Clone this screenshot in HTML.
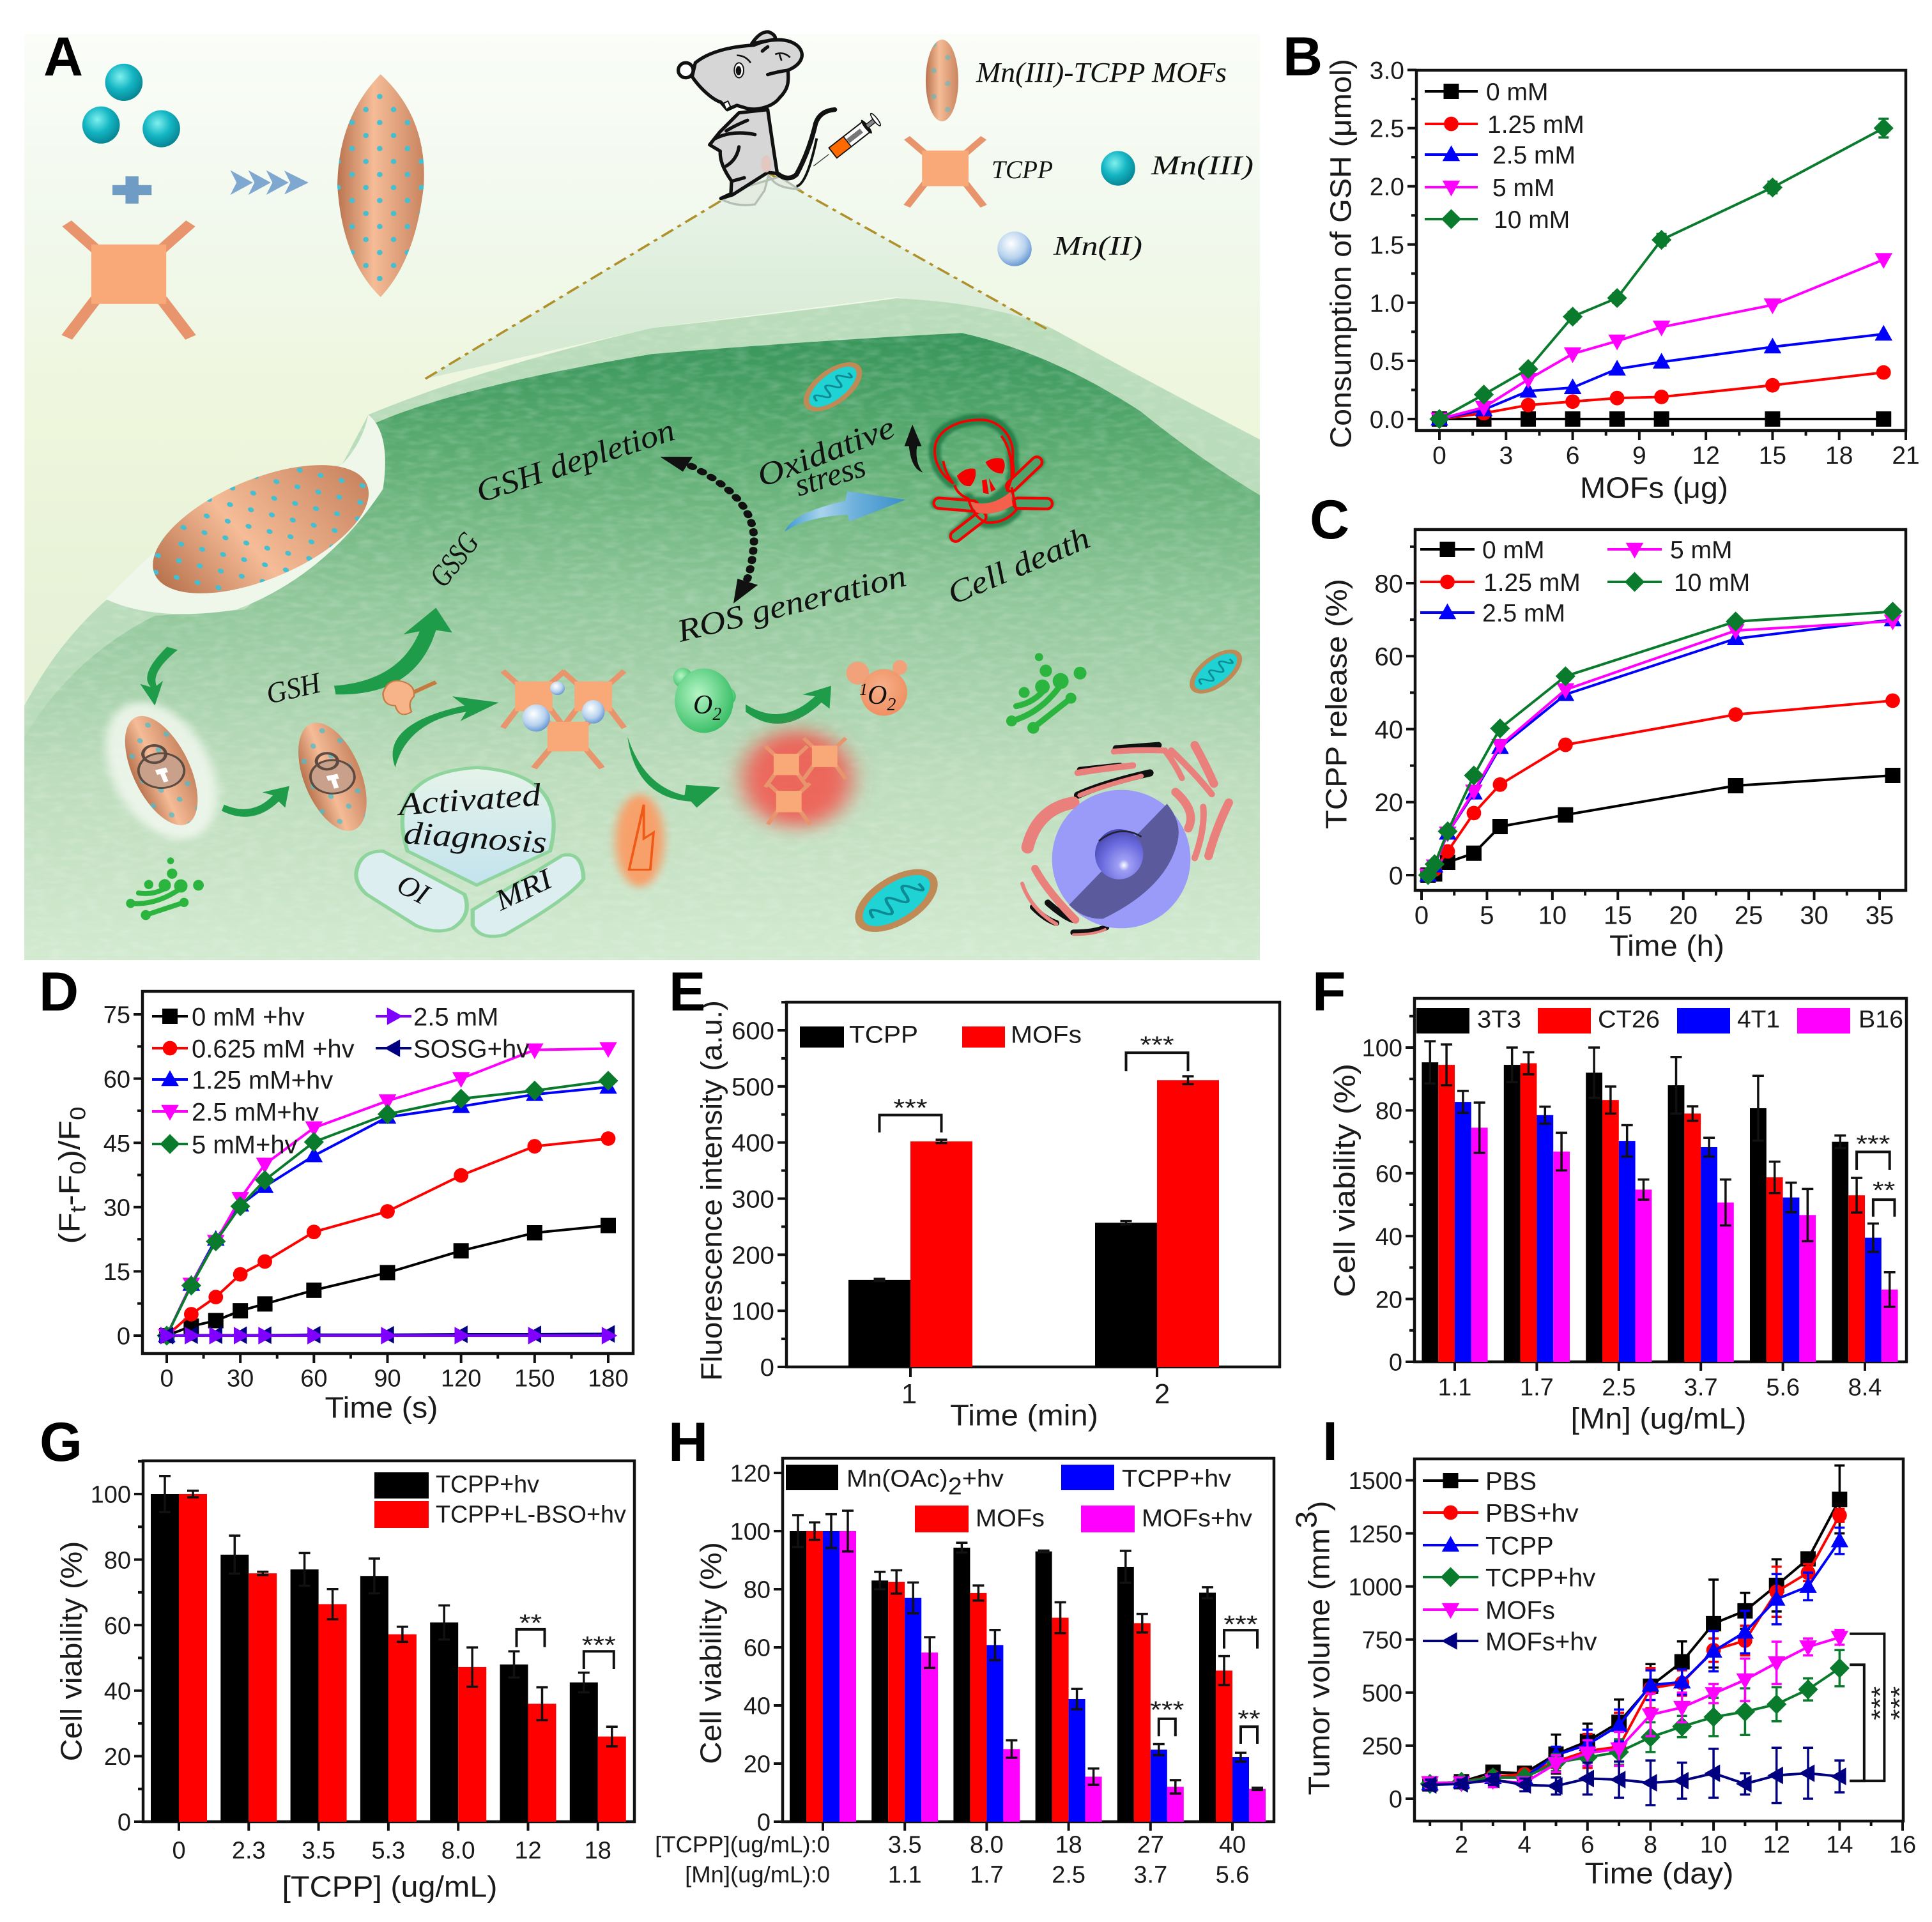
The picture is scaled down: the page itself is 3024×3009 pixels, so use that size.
<!DOCTYPE html>
<html lang="en">
<head>
<meta charset="utf-8">
<title>Mn(III)-TCPP MOFs figure</title>
<style>
html,body{margin:0;padding:0;background:#fff}
svg{display:block}
text{font-family:"Liberation Sans",sans-serif}
.script{font-family:"Liberation Serif",serif;font-style:italic;fill:#111}
</style>
</head>
<body>
<svg id="fig" xmlns="http://www.w3.org/2000/svg" width="3024" height="3009" viewBox="0 0 3024 3009">
<defs>
<linearGradient id="skyG" x1="0" y1="0" x2="0" y2="1"><stop offset="0" stop-color="#fafdf8"/><stop offset=".22" stop-color="#f1f8ec"/><stop offset=".42" stop-color="#eef6dc"/><stop offset="1" stop-color="#dcebd0"/></linearGradient>
<linearGradient id="coneG" x1="0" y1="0" x2="0" y2="1"><stop offset="0" stop-color="#eaf5ea"/><stop offset="1" stop-color="#d3e8d0"/></linearGradient>
<linearGradient id="cellG" x1="0" y1="0" x2="0" y2="1"><stop offset="0" stop-color="#37955a"/><stop offset=".2" stop-color="#5fae74"/><stop offset=".42" stop-color="#90c79a"/><stop offset=".7" stop-color="#bcdcbc"/><stop offset="1" stop-color="#d3ead1"/></linearGradient>
<linearGradient id="mofG" x1="0" y1="0" x2="1" y2="0"><stop offset="0" stop-color="#b9744f"/><stop offset=".42" stop-color="#f5bc97"/><stop offset="1" stop-color="#c98560"/></linearGradient>
<radialGradient id="mn3G" cx=".4" cy=".35" r=".7"><stop offset="0" stop-color="#7ff0ee"/><stop offset=".5" stop-color="#14b6c4"/><stop offset="1" stop-color="#067f8e"/></radialGradient>
<radialGradient id="mn2G" cx=".4" cy=".35" r=".7"><stop offset="0" stop-color="#ffffff"/><stop offset=".6" stop-color="#b7d2ee"/><stop offset="1" stop-color="#5d8fce"/></radialGradient>
<radialGradient id="o2G" cx=".4" cy=".4" r=".7"><stop offset="0" stop-color="#b5f5c5"/><stop offset="1" stop-color="#2bb85c"/></radialGradient>
<radialGradient id="o1G" cx=".45" cy=".4" r=".7"><stop offset="0" stop-color="#f7b08a"/><stop offset="1" stop-color="#ee8a5c"/></radialGradient>
<radialGradient id="holeG" cx=".6" cy=".72" r=".75"><stop offset="0" stop-color="#ffffff"/><stop offset=".15" stop-color="#9f9ff5"/><stop offset=".6" stop-color="#6c6ce0"/><stop offset="1" stop-color="#4545ad"/></radialGradient>
<linearGradient id="domeG" x1="0" y1="0" x2="0" y2="1"><stop offset="0" stop-color="#e6f4ea"/><stop offset="1" stop-color="#c3e3ee"/></linearGradient>
<linearGradient id="blueArrowG" x1="0" y1="0" x2="1" y2="0"><stop offset="0" stop-color="#3b97d0"/><stop offset=".3" stop-color="#a9d3ec"/><stop offset=".6" stop-color="#6aaedb"/><stop offset="1" stop-color="#3a8fc8"/></linearGradient>
<pattern id="dots" width="34" height="42" patternUnits="userSpaceOnUse"><ellipse cx="7" cy="9" rx="3.4" ry="4.2" fill="#43bfd1"/><ellipse cx="24" cy="30" rx="3.4" ry="4.2" fill="#43bfd1"/></pattern>
<filter id="blur20" x="-40%" y="-40%" width="180%" height="180%"><feGaussianBlur stdDeviation="14"/></filter>
<filter id="blur6" x="-30%" y="-30%" width="160%" height="160%"><feGaussianBlur stdDeviation="6"/></filter>
<filter id="texture" x="0" y="0" width="100%" height="100%"><feTurbulence type="fractalNoise" baseFrequency=".05 .11" numOctaves="2" seed="4"/><feColorMatrix type="matrix" values="0 0 0 0 1  0 0 0 0 1  0 0 0 0 1  1.6 0 0 0 -.62"/></filter>
<clipPath id="cellClip"><path d="M30 1140 Q70 1040 130 970 L200 880 L300 790 L420 750 L452 670 Q600 590 800 530 Q1000 500 1100 482 Q1220 490 1290 530 Q1400 610 1546 710 L1546 1551 L30 1551 Z"/></clipPath>
<g id="tcppShape"><g stroke="#e8946c" stroke-width="15" fill="none"><path d="M-40 -40 L-76 -82 M40 -40 L76 -82 M-40 40 L-76 102 M40 40 L76 102"/></g><rect x="-46" y="-48" width="92" height="96" fill="#f9a877"/></g>
<g id="mito"><ellipse rx="50" ry="26" fill="#bf8a56"/><ellipse rx="42" ry="19" fill="#1fd2d4"/><path d="M-32 0 q5 -16 11 0 t11 0 t11 0 t11 0 t11 0 t8 0" fill="none" stroke="#0d8a93" stroke-width="3"/></g>
<g id="golgi" transform="translate(-1285 -1300)" fill="#2bb53f"><g fill="none" stroke="#2bb53f" stroke-width="26" stroke-linecap="round"><path d="M1130 1425 Q1260 1390 1350 1260"/><path d="M1225 1455 L1390 1325"/><path d="M1150 1360 Q1230 1345 1280 1280"/></g><circle cx="1130" cy="1425" r="24"/><circle cx="1225" cy="1455" r="26"/><circle cx="1390" cy="1325" r="24"/><circle cx="1185" cy="1300" r="24"/><circle cx="1250" cy="1145" r="18"/><circle cx="1280" cy="1205" r="27"/><circle cx="1430" cy="1215" r="28"/><circle cx="1345" cy="1250" r="35"/><circle cx="1265" cy="1275" r="32"/></g>
</defs>

<g id="panel-a">
<g transform="scale(1.2755 0.969)">
<rect x="30" y="55" width="1516" height="1496" fill="url(#skyG)"/>
<path d="M942 279 L1285 532 L1100 480 L800 530 L522 612 Z" fill="url(#coneG)"/>
<path d="M30 1140 Q70 1040 130 970 L200 880 L300 790 L420 750 L452 670 Q600 590 800 530 Q1000 500 1100 482 Q1220 490 1290 530 Q1400 610 1546 710 L1546 1551 L30 1551 Z" fill="#b9dcba"/>
<path d="M30 1190 Q90 1060 190 995 L300 985 L440 820 L458 685 Q560 625 800 572 Q1000 550 1180 538 Q1290 570 1400 665 Q1470 740 1546 800 L1546 1551 L30 1551 Z" fill="url(#cellG)"/>
<g clip-path="url(#cellClip)"><rect x="30" y="480" width="1516" height="1071" filter="url(#texture)" opacity=".22"/></g>
<path d="M130 968 Q190 1005 290 985 Q400 930 470 790 Q480 700 452 670 Q445 715 420 750 Q300 800 200 880 Q165 920 130 968 Z" fill="#eff7eb"/>
<path d="M522 612 L942 279" stroke="#b0902a" stroke-width="3.4" stroke-dasharray="18 7 5 7" fill="none"/>
<path d="M942 279 L1285 532" stroke="#b0902a" stroke-width="3.4" stroke-dasharray="18 7 5 7" fill="none"/>

<g><ellipse cx="152" cy="133" rx="23" ry="30" fill="url(#mn3G)"/><ellipse cx="124" cy="202" rx="23" ry="30" fill="url(#mn3G)"/><ellipse cx="198" cy="208" rx="23" ry="30" fill="url(#mn3G)"/></g>
<path d="M154 285h16v14h16v16h-16v14h-16v-14h-16v-16h16z" fill="#6f9cc4"/>
<use href="#tcppShape" transform="translate(158 443)"/>
<path d="M288 282l18 13-18 13 5-13zM310 282l18 13-18 13 5-13zM332 282l18 13-18 13 5-13zM354 282l20 13-20 13 5-13z" fill="#7ea8d0" stroke="#7ea8d0" stroke-width="5"/>
<g><path d="M467 120 Q525 190 520 300 Q510 420 467 480 Q420 420 414 300 Q415 190 467 120 Z" fill="url(#mofG)"/><path d="M467 120 Q525 190 520 300 Q510 420 467 480 Q420 420 414 300 Q415 190 467 120 Z" fill="url(#dots)"/></g>

<g><ellipse cx="1156" cy="130" rx="20" ry="66" fill="url(#mofG)"/><ellipse cx="1156" cy="130" rx="20" ry="66" fill="url(#dots)" opacity=".5"/></g>
<use href="#tcppShape" transform="translate(1160 272) scale(.62 .6)"/>
<ellipse cx="1372" cy="272" rx="21" ry="28" fill="url(#mn3G)"/>
<ellipse cx="1245" cy="402" rx="21" ry="28" fill="url(#mn2G)"/>

<g transform="translate(320 855) rotate(-33)"><ellipse rx="150" ry="76" fill="url(#mofG)"/><ellipse rx="150" ry="76" fill="url(#dots)"/></g>
<ellipse cx="198" cy="1245" rx="62" ry="115" transform="rotate(-18 198 1245)" fill="#f2f8ef" opacity=".85" filter="url(#blur6)"/>
<g transform="translate(198 1245) rotate(-18)"><ellipse rx="36" ry="92" fill="url(#mofG)"/><ellipse rx="36" ry="92" fill="url(#dots)" opacity=".7"/><circle r="28" fill="#c9a18b" stroke="#5d4a40" stroke-width="3"/><circle cy="-28" r="14" fill="none" stroke="#5d4a40" stroke-width="4"/><path d="M-7 -3h14v8h-4v14h-6v-14h-4z" fill="#fff"/></g>
<g transform="translate(408 1255) rotate(-15)"><ellipse rx="36" ry="90" fill="url(#mofG)"/><ellipse rx="36" ry="90" fill="url(#dots)" opacity=".7"/><circle r="27" fill="#c9a18b" stroke="#5d4a40" stroke-width="3"/><circle cy="-26" r="13" fill="none" stroke="#5d4a40" stroke-width="4"/><path d="M-7 -3h14v8h-4v14h-6v-14h-4z" fill="#fff"/></g>

<g fill="#1f9c4a">
<path d="M205 1045 Q170 1090 185 1110 L172 1105 L190 1140 L200 1100 L192 1108 Q185 1085 218 1050 Z"/>
<path d="M275 1300 Q310 1320 335 1285 L322 1280 L355 1270 L350 1305 L342 1295 Q310 1335 272 1310 Z"/>
<path d="M410 1108 Q490 1100 515 1020 L495 1025 L535 982 L555 1022 L535 1018 Q510 1125 412 1122 Z"/>
<path d="M485 1240 Q465 1170 570 1140 L555 1125 L612 1135 L565 1165 L572 1150 Q500 1165 485 1240 Z"/>
<path d="M770 1190 Q790 1270 840 1285 L842 1268 L884 1272 L855 1305 L848 1295 Q780 1290 770 1190 Z"/>
<path d="M915 1138 Q960 1175 1000 1125 L985 1122 L1020 1108 L1018 1145 L1008 1135 Q960 1195 915 1150 Z"/>
</g>
<g><path d="M505 1120 L535 1102" stroke="#c47a3d" stroke-width="6"/><path d="M470 1120 Q475 1098 490 1100 Q510 1105 508 1125 Q500 1135 505 1150 Q490 1162 485 1140 Q470 1140 470 1120 Z" fill="#f7b488" stroke="#c77b45" stroke-width="2"/></g>
<g><use href="#tcppShape" transform="translate(655 1125) scale(.5 .5)"/><use href="#tcppShape" transform="translate(728 1125) scale(.5 .5)"/><use href="#tcppShape" transform="translate(697 1190) scale(.55 .5)"/><ellipse cx="658" cy="1160" rx="17" ry="22" fill="url(#mn2G)"/><ellipse cx="728" cy="1150" rx="14" ry="19" fill="url(#mn2G)"/><ellipse cx="684" cy="1112" rx="9" ry="11" fill="url(#mn2G)"/></g>
<g><ellipse cx="838" cy="1095" rx="12" ry="16" fill="url(#o2G)"/><ellipse cx="893" cy="1125" rx="10" ry="14" fill="url(#o2G)"/><ellipse cx="864" cy="1132" rx="36" ry="52" fill="url(#o2G)"/></g>
<g><ellipse cx="978" cy="1258" rx="68" ry="78" fill="#f4524c" opacity=".85" filter="url(#blur20)"/><use href="#tcppShape" transform="translate(965 1235) scale(.34 .36)"/><use href="#tcppShape" transform="translate(1012 1222) scale(.34 .36)"/><use href="#tcppShape" transform="translate(968 1295) scale(.34 .36)"/></g>
<g><ellipse cx="785" cy="1358" rx="30" ry="75" fill="#f8a06a" filter="url(#blur6)"/><path d="M790 1300 L772 1405 L798 1405 L802 1345 L790 1355 Z" fill="none" stroke="#ef5a17" stroke-width="3"/></g>
<g stroke="#8fd49c" stroke-width="5">
<path d="M585 1430 L500 1375 Q470 1250 585 1240 Q700 1250 675 1375 Z" fill="url(#domeG)"/>
<path d="M437 1412 Q440 1375 470 1375 L570 1445 Q580 1480 555 1500 Q535 1510 510 1495 L450 1445 Q437 1430 437 1412 Z" fill="#dceef0"/>
<path d="M580 1470 L690 1382 Q715 1375 716 1420 Q700 1450 620 1510 Q590 1520 580 1495 Z" fill="#dceef0"/>
</g>
<path d="M835 745 Q930 800 925 880 Q922 930 910 955" fill="none" stroke="#111" stroke-width="10" stroke-dasharray="3 12" stroke-linecap="round"/>
<path d="M810 738 L850 738 L838 762 Z M900 975 L930 945 L905 935 Z" fill="#111"/>
<use href="#mito" transform="translate(1022 625) rotate(-50) scale(.95 .95)"/>
<use href="#mito" transform="translate(1492 1085) rotate(-50) scale(.85 .85)"/>
<use href="#mito" transform="translate(1100 1455) rotate(-45) scale(1.25 1.35)"/>
</g>

<!-- mouse, drawn in 3x crop space anchored at (1020,30) -->
<g transform="translate(1020 30) scale(.3333)">
<path d="M335 850 Q400 882 485 870 L530 805 L548 735 L575 765 Q610 795 690 798 L600 740 L400 800 Z" fill="#e4ece2" stroke="#b5beb2" stroke-width="10"/>
<path d="M590 725 Q640 765 680 730 Q740 620 770 490 Q790 430 860 425" fill="none" stroke="#111" stroke-width="22" stroke-linecap="round"/>
<path d="M680 785 Q730 775 775 560" fill="none" stroke="#111" stroke-width="12"/>
<g stroke="#111" stroke-width="16" stroke-linejoin="round" stroke-linecap="round" fill="#d6d6d6">
<path d="M470 115 Q510 55 550 60 Q585 75 580 95 Z"/>
<path d="M410 440 Q360 490 320 530 L272 590 L322 620 Q318 680 375 760 L372 820 L325 842 L380 825 L545 720 L590 725 Q570 600 545 425 Z"/>
<path d="M205 205 C260 160 350 130 480 122 C540 95 640 80 690 130 C725 170 700 215 640 240 C645 300 640 330 600 370 C570 410 500 430 450 420 L400 405 L355 425 L325 390 C290 380 230 330 190 270 Z"/>
<circle cx="160" cy="240" r="35" fill="#fff"/>
<path d="M520 150 Q530 140 545 130 M545 260 Q600 245 640 240" fill="none"/>
<path d="M300 560 Q380 520 485 542 M450 475 Q380 505 350 525 M410 600 Q400 660 350 690 M380 760 L435 745" fill="none"/>
</g>
<ellipse cx="410" cy="240" rx="22" ry="35" fill="#fff" stroke="#111" stroke-width="6"/>
<ellipse cx="408" cy="242" rx="13" ry="22" fill="#111"/>
<path d="M400 170 Q440 170 465 205 M580 165 Q620 150 650 180 M600 165 L610 195" fill="none" stroke="#111" stroke-width="8"/>
<path d="M338 395 L350 425 L370 410 L358 385 Z" fill="#fff" stroke="#111" stroke-width="6"/>
<ellipse cx="538" cy="680" rx="24" ry="40" fill="#e4c6bc" opacity=".85"/>
<g><path d="M760 690 L832 635" stroke="#333" stroke-width="4"/><g transform="translate(900 590) rotate(-38)"><rect x="-62" y="-30" width="200" height="60" fill="#fff" stroke="#111" stroke-width="6"/><rect x="-62" y="-30" width="86" height="60" fill="#ff6a00" stroke="#111" stroke-width="5"/><rect x="28" y="-12" width="80" height="24" fill="#777"/><ellipse cx="138" cy="0" rx="10" ry="40" fill="#111"/><rect x="140" y="-10" width="50" height="20" fill="#888" stroke="#111" stroke-width="4"/><ellipse cx="192" cy="0" rx="9" ry="36" fill="#fff" stroke="#111" stroke-width="5"/></g></g>
</g>

<!-- skull, arrows, golgi, singlet oxygen drawn in crop space anchored at (1180,620), 2.8x -->
<g transform="translate(1180 620) scale(.357)">
<path d="M740 335 Q690 320 680 220 L660 220 L695 125 L735 220 L715 220 Q705 290 740 335 Z" fill="#111"/>
<path d="M135 595 Q170 510 400 460 L410 418 L665 455 L420 550 L410 520 Q230 530 135 595 Z" fill="url(#blueArrowG)"/>
<g>
<g fill="none" stroke="#14733c" stroke-width="52" opacity=".75" filter="url(#blur6)" stroke-linecap="round"><path d="M870 380 C800 330 780 250 800 200 C830 130 920 100 1010 105 C1090 115 1140 190 1135 260 C1130 300 1150 330 1130 360"/><path d="M800 470 L1290 470 M880 610 L1250 290"/><path d="M940 450 Q960 530 1020 555 Q1100 560 1150 500"/></g>
<g fill="none" stroke-linecap="round"><path d="M812 470 L960 482 M1160 470 L1285 472 M885 615 L995 530 M1130 395 L1240 290" stroke="#f50000" stroke-width="58"/><path d="M812 470 L960 482 M1160 470 L1285 472 M885 615 L995 530 M1130 395 L1240 290" stroke="#4fa36a" stroke-width="34"/></g>
<path d="M870 380 C800 330 780 250 800 200 C830 130 920 100 1010 105 C1090 115 1140 190 1135 260 C1130 300 1150 330 1130 360 L1110 420 M880 390 Q890 430 940 450 Q960 530 1020 555 Q1100 560 1150 500 L1130 400 M830 285 Q840 340 875 385 M1085 175 Q1135 240 1130 360" fill="none" stroke="#f50000" stroke-width="11"/>
<path d="M890 350 Q930 310 970 320 Q980 360 950 395 Q910 400 890 350 Z M1015 290 Q1050 265 1090 275 Q1110 300 1090 340 Q1040 340 1015 290 Z M1000 370 L1020 365 L1030 430 L1005 425 Z M1030 360 L1060 410 L1040 420 Z" fill="#f50000"/>
<path d="M950 465 Q1040 490 1125 420 L1135 480 Q1050 530 975 510 Z" fill="#f5604c"/>
</g>
<g><circle cx="455" cy="1215" r="50" fill="#f2a27a"/><circle cx="640" cy="1190" r="32" fill="#f2a27a"/><circle cx="570" cy="1300" r="102" fill="url(#o1G)"/></g>
<use href="#golgi" transform="translate(1285 1300)"/>
</g>
<use href="#golgi" transform="translate(261 1395) rotate(20) scale(.3)"/>

<!-- nucleus and ER, crop space anchored at (1540,1130), 3x -->
<g transform="translate(1540 1130) scale(.3333)">
<g fill="none" stroke="#111" stroke-linecap="round"><path d="M440 345 Q560 290 780 240" stroke-width="34"/><path d="M620 125 L820 110" stroke-width="30"/><path d="M450 225 L640 205" stroke-width="26"/><path d="M230 870 Q290 930 340 945" stroke-width="28"/><path d="M300 850 Q380 920 420 930" stroke-width="30"/><path d="M420 990 Q520 990 575 965" stroke-width="28"/></g>
<g fill="none" stroke="#e9807c" stroke-linecap="round"><path d="M205 590 Q250 410 420 380" stroke-width="58"/><path d="M440 240 Q560 220 700 205" stroke-width="30"/><path d="M450 345 Q560 300 740 255" stroke-width="22"/><path d="M610 140 Q720 130 850 135 Q900 200 930 265" stroke-width="28"/><path d="M880 135 Q1000 250 1070 340" stroke-width="30"/><path d="M990 110 Q1040 200 1080 290" stroke-width="40"/><path d="M900 330 Q1000 420 960 500" stroke-width="40"/><path d="M1150 380 Q1090 500 1055 630" stroke-width="40"/><path d="M1030 400 Q1040 500 990 640" stroke-width="30"/><path d="M180 760 Q220 880 340 950" stroke-width="18"/><path d="M240 690 Q300 800 430 930" stroke-width="36"/><path d="M420 1000 Q520 1000 570 975" stroke-width="12"/></g>
<circle cx="645" cy="645" r="325" fill="#9a9af8"/>
<path d="M400 860 L860 385 Q930 470 910 560 Q860 780 560 925 Q470 930 400 860 Z" fill="#5a5a9c"/>
<ellipse cx="635" cy="622" rx="113" ry="118" fill="url(#holeG)"/>
<path d="M540 560 Q640 480 740 540" fill="none" stroke="#223" stroke-width="8"/>
</g>

<text class="script" x="1528" y="128" font-size="44" textLength="392" lengthAdjust="spacingAndGlyphs">Mn(III)-TCPP MOFs</text>
<text class="script" x="1552" y="279" font-size="40" textLength="96" lengthAdjust="spacingAndGlyphs">TCPP</text>
<text class="script" x="1802" y="273" font-size="42" textLength="160" lengthAdjust="spacingAndGlyphs">Mn(III)</text>
<text class="script" x="1649" y="399" font-size="42" textLength="139" lengthAdjust="spacingAndGlyphs">Mn(II)</text>
<text class="script" transform="translate(752 787) rotate(-18)" font-size="50" textLength="323" lengthAdjust="spacingAndGlyphs">GSH depletion</text>
<text class="script" transform="translate(695 922) rotate(-52)" font-size="48" textLength="92" lengthAdjust="spacingAndGlyphs">GSSG</text>
<text class="script" transform="translate(1193 763) rotate(-21)" font-size="50" textLength="226" lengthAdjust="spacingAndGlyphs">Oxidative</text>
<text class="script" transform="translate(1250 777) rotate(-17)" font-size="50" textLength="113" lengthAdjust="spacingAndGlyphs">stress</text>
<text class="script" transform="translate(1065 1005) rotate(-14)" font-size="50" textLength="367" lengthAdjust="spacingAndGlyphs">ROS generation</text>
<text class="script" transform="translate(1492 947) rotate(-23)" font-size="50" textLength="236" lengthAdjust="spacingAndGlyphs">Cell death</text>
<text class="script" transform="translate(421 1102) rotate(-13)" font-size="46" textLength="85" lengthAdjust="spacingAndGlyphs">GSH</text>
<text class="script" transform="translate(625 1276) rotate(-4)" font-size="50" textLength="223" lengthAdjust="spacingAndGlyphs">Activated</text>
<text class="script" transform="translate(631 1320) rotate(4)" font-size="50" textLength="224" lengthAdjust="spacingAndGlyphs">diagnosis</text>
<text class="script" transform="translate(618 1394) rotate(28)" font-size="46">OI</text>
<text class="script" transform="translate(784 1426) rotate(-25)" font-size="46" textLength="92" lengthAdjust="spacingAndGlyphs">MRI</text>
<text class="script" x="1085" y="1117" font-size="42">O<tspan font-size="28" dy="10">2</tspan></text>
<text class="script" x="1345" y="1102" font-size="42"><tspan font-size="26" dy="-14">1</tspan><tspan dy="14">O</tspan><tspan font-size="28" dy="10">2</tspan></text>
</g>
<g id="charts"></g>
</svg>
<script>
/* ---------- Panel B data ---------- */
const bDoses = [0, 2, 4, 6, 8, 10, 15, 20];
const b0mM = [0, 0, 0, 0, 0, 0, 0, 0];
const b125mM = [0, 0.05, 0.12, 0.15, 0.18, 0.19, 0.29, 0.40];
const b25mM = [0, 0.08, 0.24, 0.27, 0.43, 0.49, 0.62, 0.73];
const b5mM = [0, 0.10, 0.34, 0.56, 0.67, 0.79, 0.98, 1.37];
const b10mM = [0, 0.21, 0.43, 0.88, 1.04, 1.54, 1.99, 2.50];
const b10mMErr = [0.03, 0.02, 0.03, 0.04, 0.04, 0.05, 0.05, 0.08];
const bXTicks = [0, 3, 6, 9, 12, 15, 18, 21];
const bYTicks = [0, 0.5, 1, 1.5, 2, 2.5, 3];
const bYLabels = ['0.0', '0.5', '1.0', '1.5', '2.0', '2.5', '3.0'];
const bLegend = ['0 mM', '1.25 mM', '2.5 mM', '5 mM', '10 mM'];
/* ---------- Panel C data ---------- */
const cTimes = [0.5, 1, 2, 4, 6, 11, 24, 36];
const c0mM = [0, 0.3, 3.5, 6, 13.3, 16.5, 24.5, 27.3];
const c125mM = [0, 1.5, 6.5, 17, 24.8, 35.7, 44, 47.8];
const c25mM = [0, 2.5, 11.5, 22.5, 35, 49.5, 64.8, 70];
const c5mM = [0, 2.5, 11.5, 23, 35.5, 50.8, 67, 69.6];
const c10mM = [0, 3, 12, 27.3, 40.2, 54.5, 69.5, 72.2];
const cXTicks = [0, 5, 10, 15, 20, 25, 30, 35];
const cYTicks = [0, 20, 40, 60, 80];
const cLegend = ['0 mM', '1.25 mM', '2.5 mM', '5 mM', '10 mM'];
/* ---------- Panel D data ---------- */
const dTimes = [0, 10, 20, 30, 40, 60, 90, 120, 150, 180];
const d0mM = [0, 2.2, 3.5, 5.8, 7.4, 10.6, 14.7, 19.8, 24, 25.7];
const d0625mM = [0, 5, 9, 14.3, 17.3, 24.2, 29, 37.4, 44.2, 46];
const d125mM = [0, 12, 22.5, 30.5, 34.8, 42, 51, 53.5, 56.3, 58];
const d25mM = [0, 12, 22, 32, 40, 48.5, 54.8, 60, 66.7, 67];
const d5mM = [0, 11.7, 22, 30.2, 36.3, 45.2, 51.7, 55.3, 57.2, 59.5];
const d25Dark = [0, 0, 0, 0, 0, 0, 0, 0, 0, 0];
const dSosg = [0, 0.1, 0.1, 0.1, 0.1, 0.2, 0.2, 0.3, 0.3, 0.4];
const dXTicks = [0, 30, 60, 90, 120, 150, 180];
const dYTicks = [0, 15, 30, 45, 60, 75];
const dLegend = ['0 mM +hv', '0.625 mM +hv', '1.25 mM+hv', '2.5 mM+hv', '5 mM+hv', '2.5 mM', 'SOSG+hv'];
/* ---------- Panel E data ---------- */
const eCategories = ['1', '2'];
const eTcpp = [155, 257];
const eTcppErr = [2, 3];
const eMofs = [402, 511];
const eMofsErr = [3, 7];
const eYTicks = [0, 100, 200, 300, 400, 500, 600];
/* ---------- Panel F data ---------- */
const fCategories = ['1.1', '1.7', '2.5', '3.7', '5.6', '8.4'];
const f3T3 = [95.3, 94.5, 92, 88, 80.7, 70];
const f3T3Err = [6.7, 5.5, 8, 9, 10.3, 2];
const fCT26 = [94.5, 95, 83.3, 79, 58.7, 53];
const fCT26Err = [6.5, 3.5, 4.3, 2.3, 5, 5.5];
const f4T1 = [82.7, 78.5, 70.3, 68.3, 52.3, 39.5];
const f4T1Err = [3.5, 2.7, 5, 3, 4.7, 4.5];
const fB16 = [74.5, 66.9, 54.8, 50.7, 46.7, 23];
const fB16Err = [8, 6, 3.2, 7.3, 8.3, 5.5];
const fYTicks = [0, 20, 40, 60, 80, 100];
/* ---------- Panel G data ---------- */
const gCategories = ['0', '2.3', '3.5', '5.3', '8.0', '12', '18'];
const gTcpp = [100, 81.5, 77, 75, 60.8, 48, 42.5];
const gTcppErr = [5.5, 5.8, 5, 5.3, 5.2, 4, 3];
const gBso = [100, 75.8, 66.4, 57.2, 47.2, 36, 26];
const gBsoErr = [1, 0.5, 4.6, 2.3, 6, 5, 3];
const gYTicks = [0, 20, 40, 60, 80, 100];
/* ---------- Panel H data ---------- */
const hTcppDose = ['3.5', '8.0', '18', '27', '40'];
const hMnDose = ['1.1', '1.7', '2.5', '3.7', '5.6'];
const hMnOAc = [100, 83, 94.3, 93, 87.7, 78.8];
const hMnOAcErr = [5.5, 3, 1.7, 0.3, 5.5, 1.9];
const hMofs = [100, 82.5, 78.7, 70.2, 68.3, 52];
const hMofsErr = [3, 4, 2.6, 5.3, 3.2, 5];
const hTcpp = [100, 77, 60.8, 42.2, 24.8, 22.2];
const hTcppErr = [5.8, 5.3, 5.2, 3.5, 1.9, 1.5];
const hMofsHv = [100, 58.2, 25, 15.5, 12, 11.3];
const hMofsHvErr = [7, 5.3, 3, 2.8, 2.3, 0.4];
const hYTicks = [0, 20, 40, 60, 80, 100, 120];
/* ---------- Panel I data ---------- */
const iDays = [1, 2, 3, 4, 5, 6, 7, 8, 9, 10, 11, 12, 13, 14];
const iPbs = [70, 80, 125, 120, 210, 270, 360, 530, 645, 825, 885, 1005, 1130, 1410];
const iPbsErr = [20, 20, 25, 25, 92, 84, 107, 104, 96, 207, 85, 123, 20, 160];
const iPbsHv = [70, 80, 105, 115, 175, 225, 245, 520, 545, 700, 745, 975, 1065, 1335];
const iPbsHvErr = [20, 20, 20, 20, 30, 80, 160, 95, 60, 55, 70, 118, 40, 30];
const iTcpp = [70, 80, 100, 100, 205, 255, 345, 535, 550, 695, 785, 940, 1000, 1215];
const iTcppErr = [20, 20, 20, 20, 40, 70, 75, 70, 60, 95, 100, 118, 65, 62];
const iTcppHv = [70, 80, 100, 100, 170, 195, 220, 290, 340, 385, 410, 445, 515, 615];
const iTcppHvErr = [20, 20, 20, 20, 40, 40, 60, 70, 50, 90, 110, 80, 52, 85];
const iMofs = [75, 75, 85, 75, 165, 215, 235, 395, 430, 495, 560, 640, 715, 760];
const iMofsErr = [25, 20, 30, 20, 40, 60, 80, 100, 70, 45, 100, 100, 40, 35];
const iMofsHv = [65, 70, 90, 65, 60, 95, 90, 75, 85, 120, 70, 110, 120, 105];
const iMofsHvErr = [25, 20, 25, 30, 40, 75, 85, 105, 85, 115, 50, 130, 120, 75];
const iXTicks = [2, 4, 6, 8, 10, 12, 14, 16];
const iYTicks = [0, 250, 500, 750, 1000, 1250, 1500];
const iLegend = ['PBS', 'PBS+hv', 'TCPP', 'TCPP+hv', 'MOFs', 'MOFs+hv'];

/* ---------- Axis functions ---------- */
function linear(d0, d1, r0, r1) { return v => r0 + (v - d0) * (r1 - r0) / (d1 - d0); }
const bX = linear(0, 21, 2253, 2983), bY = linear(0, 3, 656, 109.5);
const cX = linear(0, 35, 2225, 2942), cY = linear(0, 80, 1370, 913);
const dX = linear(0, 180, 261, 952), dY = linear(0, 75, 2091, 1588);
const eY = linear(0, 600, 2140, 1613);
const fY = linear(0, 100, 2132, 1640);
const gY = linear(0, 100, 2852, 2339);
const hY = linear(0, 100, 2852, 2397);
const iX = linear(2, 16, 2287.5, 2978), iY = linear(0, 1500, 2816, 2317.5);

const BLACK = '#000', RED = '#ff0000', BLUE = '#0000ff', MAGENTA = '#ff00ff', GREEN = '#0a7a2c', NAVY = '#000080', PURPLE = '#8000ff';
const NS = 'http://www.w3.org/2000/svg';
const root = document.getElementById('charts');
const TICK_SIZE = 38, TITLE_SIZE = 46;

function mk(tag, attrs, parent) {
  const e = document.createElementNS(NS, tag);
  for (const k in attrs) e.setAttribute(k, attrs[k]);
  parent.appendChild(e);
  return e;
}
function group(name, parent) {
  const g = mk('g', {}, parent || root);
  
  
  return g;
}
function T(parent, x, y, str, name, o) {
  o = o || {};
  const size = o.size || TICK_SIZE;
  const t = mk('text', { 'font-size': size, 'text-anchor': o.anchor || 'middle', fill: o.fill || '#1a1a1a', 'font-weight': o.weight || 'normal' }, parent);
  
  
  if (Array.isArray(str)) {
    str.forEach(run => {
      const s = mk('tspan', {}, t);
      s.textContent = run.t;
      if (run.size) s.setAttribute('font-size', run.size);
      if (run.dy) s.setAttribute('dy', run.dy);
    });
  } else {
    t.textContent = str;
  }
  let sx = o.sx || 1;
  if (o.len) sx = o.len / t.getComputedTextLength();
  const by = o.rot ? 0 : size * 0.36;
  const bx = o.rot ? size * 0.36 : 0;
  t.setAttribute('transform', 'translate(' + (x + bx) + ' ' + (y + by) + ') rotate(' + (o.rot || 0) + ') scale(' + sx + ' 1)');
  return t;
}
function marker(parent, type, cx, cy, s, color, name) {
  let m;
  if (type === 'circle') {
    m = mk('circle', { cx: cx, cy: cy, r: s * 0.95, fill: color }, parent);
  } else {
    const shapes = {
      square: [[-1, -1], [1, -1], [1, 1], [-1, 1]],
      up: [[0, -1.2], [1.15, 0.85], [-1.15, 0.85]],
      down: [[0, 1.2], [1.15, -0.85], [-1.15, -0.85]],
      diamond: [[0, -1.3], [1.3, 0], [0, 1.3], [-1.3, 0]],
      left: [[-1.2, 0], [0.85, -1.15], [0.85, 1.15]],
      right: [[1.2, 0], [-0.85, -1.15], [-0.85, 1.15]]
    };
    const pts = shapes[type].map(p => (cx + p[0] * s) + ',' + (cy + p[1] * s)).join(' ');
    m = mk('polygon', { points: pts, fill: color }, parent);
  }
  
  
  return m;
}
function frame(g, f, lw) {
  const r = mk('rect', { x: f.l, y: f.t, width: f.r - f.l, height: f.b - f.t, fill: 'none', stroke: '#111', 'stroke-width': lw || 4.5 }, g);
  
  
}
function tick(g, x1, y1, x2, y2, name) {
  const l = mk('line', { x1: x1, y1: y1, x2: x2, y2: y2, stroke: '#111', 'stroke-width': 4 }, g);
  
  
}
function yAxis(g, f, yFn, ticks, labels, o) {
  const ax = group('y-axis', g);
  ticks.forEach((v, i) => {
    tick(ax, f.l - 14, yFn(v), f.l, yFn(v), 'y-tick');
    if (o.minor && i < ticks.length) {
      const mv = v + (ticks[1] - ticks[0]) / 2;
      if (yFn(mv) > f.t) tick(ax, f.l - 8, yFn(mv), f.l, yFn(mv), 'y-minor-tick');
    }
    T(ax, f.l - 19, yFn(v), labels ? labels[i] : String(v), 'y-tick-label', { anchor: 'end', size: o.size, sx: o.sx });
  });
}
function xAxis(g, f, xFn, ticks, labels, o) {
  const ax = group('x-axis', g);
  ticks.forEach((v, i) => {
    tick(ax, xFn(v), f.b, xFn(v), f.b + 15, 'x-tick');
    if (o.minor) {
      const mv = v + (ticks[1] - ticks[0]) / 2;
      if (xFn(mv) < f.r) tick(ax, xFn(mv), f.b, xFn(mv), f.b + 8, 'x-minor-tick');
    }
    T(ax, xFn(v), o.y, labels ? labels[i] : String(v), 'x-tick-label', { size: o.size, sx: o.sx });
  });
}
function drawSeries(g, s, xs, xFn, yFn, ms) {
  const sg = group('series-' + s.name, g);
  if (s.err) {
    s.vals.forEach((v, i) => {
      const x = xFn(xs[i]), hi = yFn(v + s.err[i]), lo = yFn(v - s.err[i]);
      const eb = mk('path', { d: 'M' + x + ' ' + lo + 'V' + hi + 'M' + (x - 8) + ' ' + hi + 'H' + (x + 8) + 'M' + (x - 8) + ' ' + lo + 'H' + (x + 8), stroke: s.color, 'stroke-width': 3.5, fill: 'none' }, sg);
      
      
    });
  }
  const pts = s.vals.map((v, i) => xFn(xs[i]) + ',' + yFn(v)).join(' ');
  const pl = mk('polyline', { points: pts, fill: 'none', stroke: s.color, 'stroke-width': 4 }, sg);
  
  
  s.vals.forEach((v, i) => marker(sg, s.marker, xFn(xs[i]), yFn(v), ms, s.color, 'point'));
}
function lineLegend(g, entries, ms) {
  const lg = group('legend', g);
  entries.forEach(e => {
    const eg = group('legend-entry', lg);
    const l = mk('line', { x1: e.x1, x2: e.x2, y1: e.y, y2: e.y, stroke: e.color, 'stroke-width': 4 }, eg);
    
    
    marker(eg, e.marker, (e.x1 + e.x2) / 2, e.y, ms, e.color, 'legend-marker');
    T(eg, e.tx, e.y, e.label, 'legend-label', { anchor: 'start', size: e.size, sx: e.sx });
  });
}
function drawBars(g, series, cx, w, yFn, base) {
  series.forEach((s, j) => {
    const sg = group('bars-' + s.name, g);
    s.vals.forEach((v, i) => {
      const left = cx(i) - series.length * w / 2 + j * w;
      const r = mk('rect', { x: left, y: yFn(v), width: w, height: base - yFn(v), fill: s.color }, sg);
      
      
    });
  });
  series.forEach((s, j) => {
    const eg = group('errors-' + s.name, g);
    s.vals.forEach((v, i) => {
      const x = cx(i) - series.length * w / 2 + (j + 0.5) * w, hi = yFn(v + s.err[i]), lo = yFn(v - s.err[i]);
      const eb = mk('path', { d: 'M' + x + ' ' + lo + 'V' + hi + 'M' + (x - 9) + ' ' + hi + 'H' + (x + 9) + 'M' + (x - 9) + ' ' + lo + 'H' + (x + 9), stroke: '#111', 'stroke-width': 3.5, fill: 'none' }, eg);
      
      
    });
  });
}
function bracket(g, x1, x2, top, bot, starY, label, name) {
  const bg = group(name, g);
  const p = mk('path', { d: 'M' + x1 + ' ' + bot + 'V' + top + 'H' + x2 + 'V' + bot, fill: 'none', stroke: '#111', 'stroke-width': 4 }, bg);
  
  
  T(bg, (x1 + x2) / 2, starY + 6, label, 'significance-stars', { size: 38, sx: 1.2 });
}
function swatch(g, x, y, w, h, color, label, tx, ty, len) {
  const eg = group('legend-entry', g);
  const r = mk('rect', { x: x, y: y, width: w, height: h, fill: color }, eg);
  
  
  T(eg, tx, ty, label, 'legend-label', { anchor: 'start', size: 38, len: len });
}
function letter(ch, x, baseline) {
  const t = mk('text', { x: x, y: baseline, 'font-size': 86, 'font-weight': 'bold', fill: '#000' }, root);
  t.textContent = ch;
  
  
}

/* ---------- Panel B ---------- */
(function () {
  const g = group('panel-b-line-chart');
  const f = { l: 2217, r: 2983, t: 110, b: 674 };
  frame(g, f);
  yAxis(g, f, bY, bYTicks, bYLabels, { minor: true, size: 39 });
  xAxis(g, f, bX, bXTicks, null, { minor: true, y: 712, size: 39 });
  [
    { name: '0-mm', vals: b0mM, color: BLACK, marker: 'square' },
    { name: '1-25-mm', vals: b125mM, color: RED, marker: 'circle' },
    { name: '2-5-mm', vals: b25mM, color: BLUE, marker: 'up' },
    { name: '5-mm', vals: b5mM, color: MAGENTA, marker: 'down' },
    { name: '10-mm', vals: b10mM, err: b10mMErr, color: GREEN, marker: 'diamond' }
  ].forEach(s => drawSeries(g, s, bDoses, bX, bY, 12));
  const cols = [BLACK, RED, BLUE, MAGENTA, GREEN], mks = ['square', 'circle', 'up', 'down', 'diamond'], rows = [143, 194, 242, 293, 343], txs = [2326, 2328, 2336, 2336, 2338];
  lineLegend(g, bLegend.map((l, i) => ({ label: l, color: cols[i], marker: mks[i], x1: 2230, x2: 2313, y: rows[i], tx: txs[i], size: 39 })), 12);
  T(g, 2098, 397, 'Consumption of GSH (μmol)', 'y-axis-title', { rot: -90, size: TITLE_SIZE, len: 610 });
  T(g, 2589, 763, 'MOFs (μg)', 'x-axis-title', { size: TITLE_SIZE, len: 232 });
})();

/* ---------- Panel C ---------- */
(function () {
  const g = group('panel-c-line-chart');
  const f = { l: 2215, r: 2983, t: 829, b: 1394 };
  frame(g, f);
  yAxis(g, f, cY, cYTicks, null, { minor: true, size: 40 });
  xAxis(g, f, cX, cXTicks, null, { minor: true, y: 1432, size: 40 });
  [
    { name: '0-mm', vals: c0mM, color: BLACK, marker: 'square' },
    { name: '1-25-mm', vals: c125mM, color: RED, marker: 'circle' },
    { name: '2-5-mm', vals: c25mM, color: BLUE, marker: 'up' },
    { name: '5-mm', vals: c5mM, color: MAGENTA, marker: 'down' },
    { name: '10-mm', vals: c10mM, color: GREEN, marker: 'diamond' }
  ].forEach(s => drawSeries(g, s, cTimes, cX, cY, 12));
  const cols = [BLACK, RED, BLUE, MAGENTA, GREEN], mks = ['square', 'circle', 'up', 'down', 'diamond'];
  const rows = [860, 911, 959, 860, 911], x1s = [2223, 2223, 2223, 2516, 2516], txs = [2320, 2322, 2320, 2614, 2620];
  lineLegend(g, cLegend.map((l, i) => ({ label: l, color: cols[i], marker: mks[i], x1: x1s[i], x2: x1s[i] + 85, y: rows[i], tx: txs[i], size: 39 })), 12);
  T(g, 2091, 1102, 'TCPP release (%)', 'y-axis-title', { rot: -90, size: TITLE_SIZE, len: 392 });
  T(g, 2609, 1480, 'Time (h)', 'x-axis-title', { size: TITLE_SIZE, len: 180 });
})();

/* ---------- Panel D ---------- */
(function () {
  const g = group('panel-d-line-chart');
  const f = { l: 223, r: 991, t: 1552, b: 2119 };
  frame(g, f);
  yAxis(g, f, dY, dYTicks, null, { minor: true });
  xAxis(g, f, dX, dXTicks, null, { minor: true, y: 2157 });
  [
    { name: '0-mm-hv', vals: d0mM, color: BLACK, marker: 'square' },
    { name: '0-625-mm-hv', vals: d0625mM, color: RED, marker: 'circle' },
    { name: '1-25-mm-hv', vals: d125mM, color: BLUE, marker: 'up' },
    { name: '2-5-mm-hv', vals: d25mM, color: MAGENTA, marker: 'down' },
    { name: '5-mm-hv', vals: d5mM, color: GREEN, marker: 'diamond' },
    { name: 'sosg-hv', vals: dSosg, color: NAVY, marker: 'left' },
    { name: '2-5-mm-dark', vals: d25Dark, color: PURPLE, marker: 'right' }
  ].forEach(s => drawSeries(g, s, dTimes, dX, dY, 12));
  const cols = [BLACK, RED, BLUE, MAGENTA, GREEN, PURPLE, NAVY], mks = ['square', 'circle', 'up', 'down', 'diamond', 'right', 'left'];
  const rows = [1591, 1641, 1690, 1740, 1791, 1591, 1641], x1s = [238, 238, 238, 238, 238, 588, 588], txs = [300, 300, 300, 300, 300, 647, 647];
  lineLegend(g, dLegend.map((l, i) => ({ label: l, color: cols[i], marker: mks[i], x1: x1s[i], x2: x1s[i] + 56, y: rows[i], tx: txs[i], size: 40 })), 12);
  T(g, 108, 1840, [{ t: '(F' }, { t: 't', size: 34, dy: 9 }, { t: '-F', dy: -9 }, { t: '0', size: 34, dy: 9 }, { t: ')/F', dy: -9 }, { t: '0', size: 34, dy: 9 }], 'y-axis-title', { rot: -90, size: TITLE_SIZE, len: 215 });
  T(g, 597, 2203, 'Time (s)', 'x-axis-title', { size: TITLE_SIZE, len: 177 });
})();

/* ---------- Panel E ---------- */
(function () {
  const g = group('panel-e-bar-chart');
  const f = { l: 1231, r: 2003, t: 1569, b: 2140 };
  const cx = i => 1425 + i * 386, w = 97;
  frame(g, f);
  yAxis(g, f, eY, eYTicks, null, { minor: true, size: 39, sx: 1.03 });
  drawBars(g, [
    { name: 'tcpp', vals: eTcpp, err: eTcppErr, color: BLACK },
    { name: 'mofs', vals: eMofs, err: eMofsErr, color: RED }
  ], cx, w, eY, 2140);
  eCategories.forEach((c, i) => {
    tick(g, cx(i), 2140, cx(i), 2156, 'x-tick');
    T(g, cx(i) + (i ? 8 : -2), 2181, c, 'x-tick-label', { size: 44 });
  });
  const bc = (i, j) => cx(i) - w + (j + 0.5) * w;
  bracket(g, bc(0, 0), bc(0, 1), eY(449), eY(418), eY(470), '***', 'significance-1-min');
  bracket(g, bc(1, 0), bc(1, 1), eY(560), eY(527), eY(582), '***', 'significance-2-min');
  const lg = group('legend', g);
  swatch(lg, 1252, 1607, 69, 33, BLACK, 'TCPP', 1329, 1619, 108);
  swatch(lg, 1506, 1607, 67, 33, RED, 'MOFs', 1582, 1619, 111);
  T(g, 1113, 1864, 'Fluorescence intensity (a.u.)', 'y-axis-title', { rot: -90, size: TITLE_SIZE, len: 596 });
  T(g, 1603, 2215, 'Time (min)', 'x-axis-title', { size: TITLE_SIZE, len: 232 });
})();

/* ---------- Panel F ---------- */
(function () {
  const g = group('panel-f-bar-chart');
  const f = { l: 2214, r: 2984, t: 1563, b: 2132 };
  const cx = i => 2277 + i * 128.4, w = 25.8;
  frame(g, f);
  yAxis(g, f, fY, fYTicks, null, { minor: true });
  drawBars(g, [
    { name: '3t3', vals: f3T3, err: f3T3Err, color: BLACK },
    { name: 'ct26', vals: fCT26, err: fCT26Err, color: RED },
    { name: '4t1', vals: f4T1, err: f4T1Err, color: BLUE },
    { name: 'b16', vals: fB16, err: fB16Err, color: MAGENTA }
  ], cx, w, fY, 2132);
  fCategories.forEach((c, i) => {
    tick(g, cx(i), 2132, cx(i), 2146, 'x-tick');
    T(g, cx(i), 2171, c, 'x-tick-label');
  });
  const bc = (i, j) => cx(i) - 2 * w + (j + 0.5) * w;
  bracket(g, bc(5, 1), bc(5, 3), fY(66.8), fY(61), fY(70.8), '***', 'significance-high');
  bracket(g, bc(5, 2), bc(5, 3.3), fY(51.6), fY(46.2), fY(56), '**', 'significance-low');
  const lg = group('legend', g);
  swatch(lg, 2217, 1578, 83, 40, BLACK, '3T3', 2312, 1595, 69);
  swatch(lg, 2407, 1578, 83, 40, RED, 'CT26', 2501, 1595, 97);
  swatch(lg, 2625, 1578, 83, 40, BLUE, '4T1', 2719, 1595, 67);
  swatch(lg, 2813, 1578, 83, 40, MAGENTA, 'B16', 2909, 1595, 70);
  T(g, 2104, 1848, 'Cell viability (%)', 'y-axis-title', { rot: -90, size: TITLE_SIZE, len: 366 });
  T(g, 2596, 2220, '[Mn] (ug/mL)', 'x-axis-title', { size: TITLE_SIZE, len: 275 });
})();

/* ---------- Panel G ---------- */
(function () {
  const g = group('panel-g-bar-chart');
  const f = { l: 224, r: 993, t: 2287, b: 2852 };
  const cx = i => 280 + i * 109.3, w = 44;
  frame(g, f);
  yAxis(g, f, gY, gYTicks, null, { minor: true });
  drawBars(g, [
    { name: 'tcpp-hv', vals: gTcpp, err: gTcppErr, color: BLACK },
    { name: 'tcpp-lbso-hv', vals: gBso, err: gBsoErr, color: RED }
  ], cx, w, gY, 2852);
  gCategories.forEach((c, i) => {
    tick(g, cx(i), 2852, cx(i), 2866, 'x-tick');
    T(g, cx(i), 2896, c, 'x-tick-label');
  });
  const bc = (i, j) => cx(i) - w + (j + 0.5) * w;
  bracket(g, bc(5, 0) + 4, bc(5, 1) + 4, gY(58.7), gY(53.3), gY(62), '**', 'significance-12');
  bracket(g, bc(6, 0), bc(6, 1) + 3, gY(52), gY(46.6), gY(55.3), '***', 'significance-18');
  const lg = group('legend', g);
  swatch(lg, 586, 2305, 85, 41, BLACK, 'TCPP+hv', 682, 2323, 162);
  swatch(lg, 586, 2350, 85, 42, RED, 'TCPP+L-BSO+hv', 682, 2370, 298);
  T(g, 111, 2585, 'Cell viability (%)', 'y-axis-title', { rot: -90, size: TITLE_SIZE, len: 345 });
  T(g, 610, 2953, '[TCPP] (ug/mL)', 'x-axis-title', { size: TITLE_SIZE, len: 337 });
})();

/* ---------- Panel H ---------- */
(function () {
  const g = group('panel-h-bar-chart');
  const f = { l: 1225, r: 1994, t: 2283, b: 2852 };
  const cx = i => 1288 + i * 128.2, w = 26;
  frame(g, f);
  yAxis(g, f, hY, hYTicks, null, { minor: false });
  drawBars(g, [
    { name: 'mn-oac2-hv', vals: hMnOAc, err: hMnOAcErr, color: BLACK },
    { name: 'mofs', vals: hMofs, err: hMofsErr, color: RED },
    { name: 'tcpp-hv', vals: hTcpp, err: hTcppErr, color: BLUE },
    { name: 'mofs-hv', vals: hMofsHv, err: hMofsHvErr, color: MAGENTA }
  ], cx, w, hY, 2852);
  hMnOAc.forEach((v, i) => tick(g, cx(i), 2852, cx(i), 2866, 'x-tick'));
  T(g, 1299, 2887, '[TCPP](ug/mL):0', 'tcpp-dose-row-label', { anchor: 'end', size: 36, len: 274 });
  T(g, 1299, 2934, '[Mn](ug/mL):0', 'mn-dose-row-label', { anchor: 'end', size: 36, len: 227 });
  hTcppDose.forEach((c, i) => T(g, cx(i + 1), 2887, c, 'tcpp-dose-label'));
  hMnDose.forEach((c, i) => T(g, cx(i + 1), 2934, c, 'mn-dose-label'));
  const bc = (i, j) => cx(i) - 2 * w + (j + 0.5) * w;
  bracket(g, bc(5, 1), bc(5, 3), hY(65.9), hY(59.6), hY(69.5), '***', 'significance-40-high');
  bracket(g, bc(4, 2), bc(4, 3), hY(35.4), hY(29.4), hY(40), '***', 'significance-27');
  bracket(g, bc(5, 2), bc(5, 3), hY(32.7), hY(26.8), hY(37), '**', 'significance-40-low');
  const lg = group('legend', g);
  swatch(lg, 1230, 2293, 82, 40, BLACK, [{ t: 'Mn(OAc)' }, { t: '2', dy: 12 }, { t: '+hv', dy: -12 }], 1325, 2314, 246);
  swatch(lg, 1661, 2293, 83, 40, BLUE, 'TCPP+hv', 1756, 2314, 171);
  swatch(lg, 1432, 2357, 84, 42, RED, 'MOFs', 1527, 2376, 108);
  swatch(lg, 1692, 2357, 84, 42, MAGENTA, 'MOFs+hv', 1787, 2376, 173);
  T(g, 1112, 2588, 'Cell viability (%)', 'y-axis-title', { rot: -90, size: TITLE_SIZE, len: 348 });
})();

/* ---------- Panel I ---------- */
(function () {
  const g = group('panel-i-line-chart');
  const f = { l: 2214, r: 2979, t: 2284, b: 2851 };
  frame(g, f);
  yAxis(g, f, iY, iYTicks, null, { minor: false });
  xAxis(g, f, iX, iXTicks, null, { minor: true, y: 2887 });
  tick(g, iX(1), 2851, iX(1), 2859, 'x-minor-tick');
  [
    { name: 'pbs', vals: iPbs, err: iPbsErr, color: BLACK, marker: 'square' },
    { name: 'pbs-hv', vals: iPbsHv, err: iPbsHvErr, color: RED, marker: 'circle' },
    { name: 'tcpp', vals: iTcpp, err: iTcppErr, color: BLUE, marker: 'up' },
    { name: 'tcpp-hv', vals: iTcppHv, err: iTcppHvErr, color: GREEN, marker: 'diamond' },
    { name: 'mofs', vals: iMofs, err: iMofsErr, color: MAGENTA, marker: 'down' },
    { name: 'mofs-hv', vals: iMofsHv, err: iMofsHvErr, color: NAVY, marker: 'left' }
  ].forEach(s => drawSeries(g, s, iDays, iX, iY, 12));
  const cols = [BLACK, RED, BLUE, GREEN, MAGENTA, NAVY], mks = ['square', 'circle', 'up', 'diamond', 'down', 'left'], rows = [2318, 2368, 2419, 2469, 2520, 2569];
  lineLegend(g, iLegend.map((l, i) => ({ label: l, color: cols[i], marker: mks[i], x1: 2227, x2: 2314, y: rows[i], tx: 2325, size: 40 })), 12);
  const br = group('significance-brackets', g);
  const p1 = mk('path', { d: 'M' + iX(14.32) + ' ' + iY(777) + 'H' + iX(15.42) + 'V' + iY(84) + 'H' + iX(14.32), fill: 'none', stroke: '#111', 'stroke-width': 4 }, br);
  
  
  const p2 = mk('path', { d: 'M' + iX(14.32) + ' ' + iY(631) + 'H' + iX(14.78) + 'V' + iY(84) + 'H' + iX(14.32), fill: 'none', stroke: '#111', 'stroke-width': 4 }, br);
  
  
  T(br, iX(15.06) + 10, iY(450), '***', 'significance-stars', { rot: -90, size: 38, sx: 1.2 });
  T(br, iX(15.68) + 10, iY(450), '***', 'significance-stars', { rot: -90, size: 38, sx: 1.2 });
  T(g, 2064, 2580, [{ t: 'Tumor volume (mm' }, { t: '3', dy: -20 }, { t: ')', dy: 20 }], 'y-axis-title', { rot: -90, size: TITLE_SIZE, len: 461 });
  T(g, 2597, 2932, 'Time (day)', 'x-axis-title', { size: TITLE_SIZE, len: 233 });
})();

/* ---------- Panel letters ---------- */
letter('A', 68, 118);
letter('B', 2008, 118);
letter('C', 2050, 843);
letter('D', 61, 1582);
letter('E', 1047, 1582);
letter('F', 2054, 1582);
letter('G', 62, 2287);
letter('H', 1046, 2287);
letter('I', 2070, 2286);
</script>
</body>
</html>
